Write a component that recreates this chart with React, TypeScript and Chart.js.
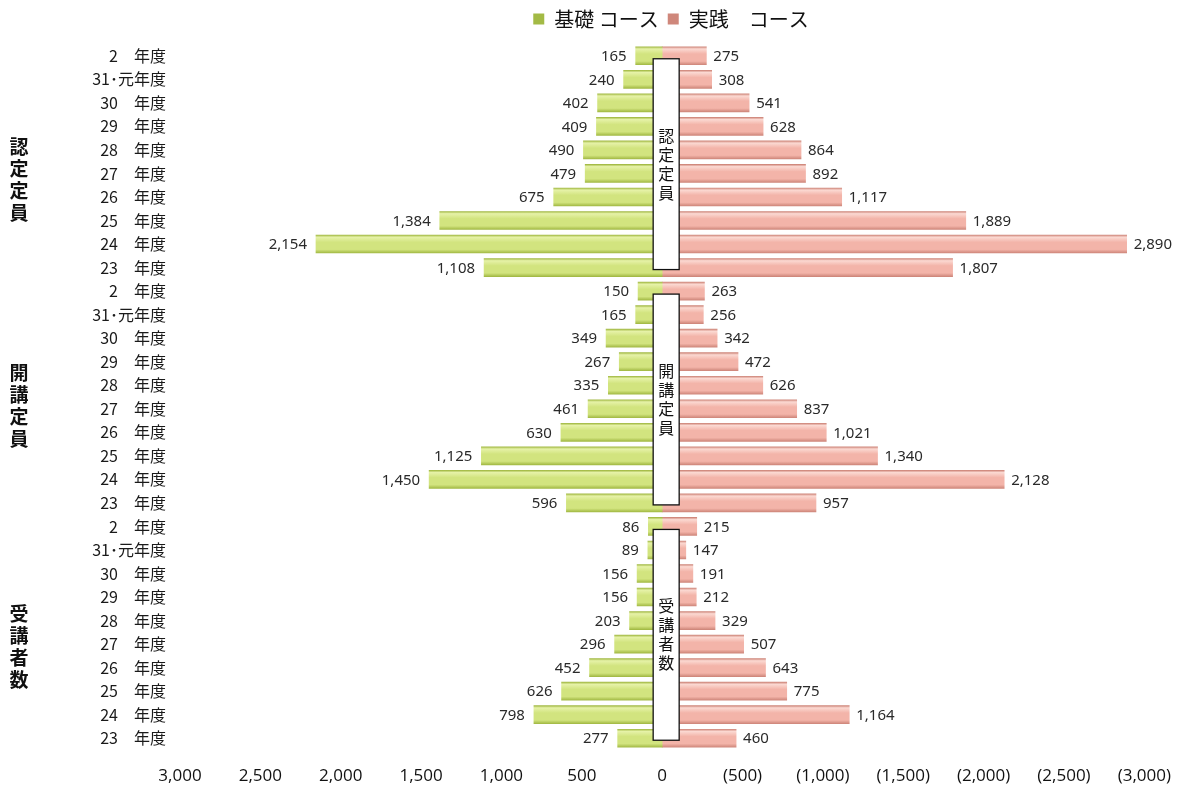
import React, { useEffect, useRef } from "react";
import { Chart, registerables } from "chart.js";

Chart.register(...registerables);

// ---- data (top row first) ----
const yearLabels = [
  "2　年度",
  "31･元年度",
  "30　年度",
  "29　年度",
  "28　年度",
  "27　年度",
  "26　年度",
  "25　年度",
  "24　年度",
  "23　年度",
];
const groupNames = ["認定定員", "開講定員", "受講者数"];
const seriesNames = ["基礎 コース", "実践　コース"];

const basicCertified = [165, 240, 402, 409, 490, 479, 675, 1384, 2154, 1108];
const practiceCertified = [275, 308, 541, 628, 864, 892, 1117, 1889, 2890, 1807];
const basicOpened = [150, 165, 349, 267, 335, 461, 630, 1125, 1450, 596];
const practiceOpened = [263, 256, 342, 472, 626, 837, 1021, 1340, 2128, 957];
const basicAttendees = [86, 89, 156, 156, 203, 296, 452, 626, 798, 277];
const practiceAttendees = [215, 147, 191, 212, 329, 507, 643, 775, 1164, 460];

const categories = [...yearLabels, ...yearLabels, ...yearLabels];
const basicValues = [...basicCertified, ...basicOpened, ...basicAttendees];
const practiceValues = [...practiceCertified, ...practiceOpened, ...practiceAttendees];

const fmt = (v: number) => Math.abs(v).toLocaleString("en-US");

const GREEN = { edge: "#a3ba45", light: "#e6f2a8", main: "#d2e47f", solid: "#c8dc6e" };
const PINK = { edge: "#cf877b", light: "#fbd9d2", main: "#f3b4a9", solid: "#efaaa0" };
const BAR_H = 18;
const GROUP_LABEL_SHIFT = [18, 9, 14];

function barFill(pal: typeof GREEN) {
  return (c: any) => {
    if (c.type !== "data") return pal.solid;
    const ys = c.chart.scales?.y;
    if (!ys || !isFinite(ys.top)) return pal.solid;
    const yc = ys.getPixelForValue(c.dataIndex);
    if (!isFinite(yc)) return pal.solid;
    const g = c.chart.ctx.createLinearGradient(0, yc - BAR_H / 2, 0, yc + BAR_H / 2);
    g.addColorStop(0, pal.edge);
    g.addColorStop(0.12, pal.light);
    g.addColorStop(0.4, pal.main);
    g.addColorStop(0.8, pal.main);
    g.addColorStop(1, pal.edge);
    return g;
  };
}

const overlayPlugin = {
  id: "overlay",
  afterLayout(chart: any) {
    const lg = chart.legend;
    if (lg) {
      lg.left += 96;
      lg.right += 96;
      lg.top -= 5;
      lg.bottom -= 5;
    }
  },
  afterDatasetsDraw(chart: any) {
    const { ctx, scales } = chart;
    const x = scales.x;
    const y = scales.y;
    ctx.save();
    // value labels
    ctx.font = '15px "Noto Sans", "Open Sans", sans-serif';
    ctx.fillStyle = "#2a2a2a";
    ctx.textBaseline = "middle";
    chart.data.datasets.forEach((ds: any, di: number) => {
      const meta = chart.getDatasetMeta(di);
      meta.data.forEach((bar: any, i: number) => {
        const text = fmt(ds.data[i]);
        if (di === 0) {
          ctx.textAlign = "right";
          ctx.fillText(text, bar.x - 9, bar.y + 1);
        } else {
          ctx.textAlign = "left";
          ctx.fillText(text, bar.x + 7, bar.y + 1);
        }
      });
    });
    // center boxes
    const x0 = x.getPixelForValue(0);
    groupNames.forEach((name, g) => {
      const top = y.getPixelForValue(g * 10) + 3;
      const bot = y.getPixelForValue(g * 10 + 9) + 2;
      const left = x0 - 9;
      const w = 26;
      ctx.fillStyle = "#ffffff";
      ctx.fillRect(left, top, w, bot - top);
      ctx.strokeStyle = "#111111";
      ctx.lineWidth = 1.3;
      ctx.strokeRect(left, top, w, bot - top);
      ctx.fillStyle = "#111111";
      ctx.font = '16px "Noto Sans CJK JP", sans-serif';
      ctx.textAlign = "center";
      ctx.textBaseline = "middle";
      const step = 19;
      const mid = (top + bot) / 2;
      const chars = Array.from(name);
      chars.forEach((ch, k) => {
        ctx.fillText(ch, left + w / 2, mid + (k - (chars.length - 1) / 2) * step);
      });
    });
    // group labels on the left
    ctx.font = 'bold 19px "Noto Sans CJK JP", sans-serif';
    ctx.fillStyle = "#111111";
    groupNames.forEach((name, g) => {
      const mid =
        (y.getPixelForValue(g * 10) + y.getPixelForValue(g * 10 + 9)) / 2 + GROUP_LABEL_SHIFT[g];
      const chars = Array.from(name);
      chars.forEach((ch, k) => {
        ctx.fillText(ch, 19, mid + (k - (chars.length - 1) / 2) * 22);
      });
    });
    ctx.restore();
  },
};

export default function App() {
  const ref = useRef<HTMLCanvasElement | null>(null);
  useEffect(() => {
    if (!ref.current) return;
    Chart.defaults.font.family = '"Noto Sans CJK JP", "Noto Sans", sans-serif';
    const chart = new Chart(ref.current, {
      type: "bar",
      data: {
        labels: categories,
        datasets: [
          {
            label: seriesNames[0],
            data: basicValues,
            backgroundColor: barFill(GREEN) as any,
            barThickness: BAR_H,
          },
          {
            label: seriesNames[1],
            data: practiceValues.map((v) => -v),
            backgroundColor: barFill(PINK) as any,
            barThickness: BAR_H,
          },
        ],
      },
      options: {
        indexAxis: "y",
        responsive: false,
        animation: false,
        layout: { padding: { left: 0, right: 37, top: 5, bottom: 2 } },
        plugins: {
          tooltip: { enabled: false },
          legend: {
            position: "top",
            labels: {
              font: { size: 20, family: '"Noto Sans CJK JP", sans-serif' },
              color: "#111",
              boxWidth: 11,
              boxHeight: 11,
              padding: 9,
            },
          },
        },
        scales: {
          x: {
            type: "linear",
            min: -3000,
            max: 3000,
            reverse: true,
            stacked: true,
            grid: { display: false, drawTicks: false },
            border: { display: false },
            ticks: {
              stepSize: 500,
              padding: 16,
              color: "#111",
              font: { size: 17, family: '"Open Sans", "Noto Sans", sans-serif' },
              callback: (v: any) => (v < 0 ? `(${fmt(v)})` : fmt(v)),
            },
            afterFit: (s: any) => {
              s.height = 40;
            },
          },
          y: {
            type: "category",
            stacked: true,
            grid: { display: false, drawTicks: false },
            border: { display: false },
            ticks: {
              padding: 14,
              color: "#1a1a1a",
              autoSkip: false,
              font: { size: 16, family: '"Noto Sans CJK JP", sans-serif' },
            },
            afterFit: (s: any) => {
              s.width = 180;
            },
          },
        },
      },
      plugins: [overlayPlugin],
    } as any);
    return () => chart.destroy();
  }, []);
  return (
    <div style={{ position: "fixed", left: 0, top: 0, width: 1187, height: 792, background: "#fff" }}>
      <canvas ref={ref} width={1187} height={792} style={{ display: "block" }} />
    </div>
  );
}
